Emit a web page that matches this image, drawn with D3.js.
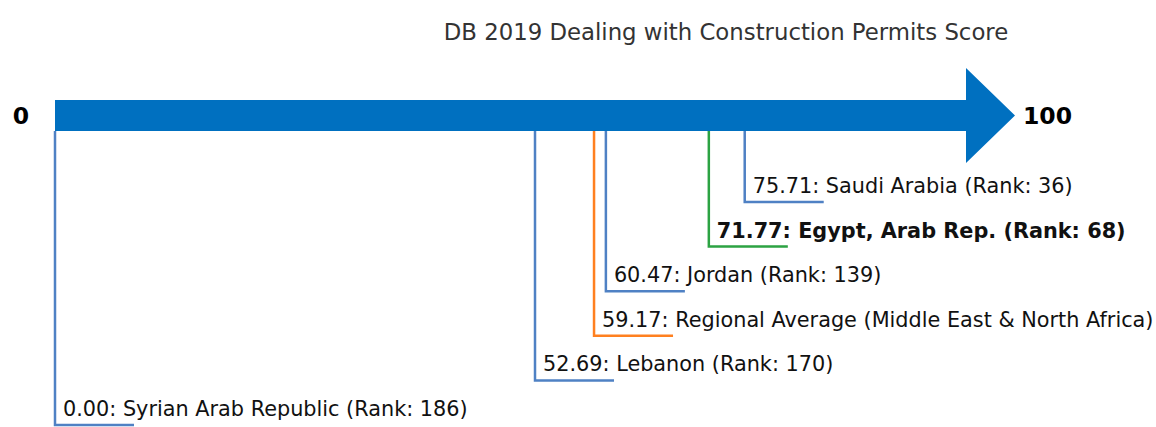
<!DOCTYPE html>
<html><head><meta charset="utf-8">
<script src="https://cdn.jsdelivr.net/npm/d3@7"></script>
<style>body{margin:0;background:#fff}svg{display:block}text{font-family:"DejaVu Sans",sans-serif}</style>
</head><body>
<svg id="c" width="1156" height="427"></svg>
<script>
const countries = ["Saudi Arabia (Rank: 36)", "Egypt, Arab Rep. (Rank: 68)", "Jordan (Rank: 139)", "Regional Average (Middle East & North Africa)", "Lebanon (Rank: 170)", "Syrian Arab Republic (Rank: 186)"];
const scores = [75.71, 71.77, 60.47, 59.17, 52.69, 0.00];
const colors = ["#4f81c4", "#2ca343", "#4f81c4", "#ff8020", "#4f81c4", "#4f81c4"];
const bold = [false, true, false, false, false, false];
const axisLabels = ["0", "100"];
const title = "DB 2019 Dealing with Construction Permits Score";

const svg = d3.select("#c");
const x = d3.scaleLinear().domain([0, 100]).range([55, 966]);
const y = d3.scaleLinear().domain([0, countries.length - 1]).range([202, 425]);
const barTop = 100, barBot = 131, barMid = 115.5;

svg.append("text").attr("x", 726).attr("y", 40).attr("text-anchor", "middle")
  .attr("font-size", 22.8).attr("fill", "#333").text(title);

// arrow
const x0 = x(0), x1 = x(100);
svg.append("path").attr("fill", "#0070c0")
  .attr("d", `M${x0},${barTop}L${x1},${barTop}L${x1},68L${x1+49},${barMid}L${x1},163L${x1},${barBot}L${x0},${barBot}Z`);

svg.append("text").attr("x", 21).attr("y", barMid).attr("dy", "0.35em").attr("text-anchor", "middle")
  .attr("font-size", 23.5).attr("font-weight", "bold").text(axisLabels[0]);
svg.append("text").attr("x", x1 + 57).attr("y", barMid).attr("dy", "0.35em")
  .attr("font-size", 23.5).attr("font-weight", "bold").text(axisLabels[1]);

const g = svg.selectAll("g.item").data(countries).join("g").attr("class", "item");
g.append("path").attr("fill", "none").attr("stroke-width", 2.5)
  .attr("stroke", (d, i) => colors[i])
  .attr("d", (d, i) => `M${x(scores[i])},${barBot}L${x(scores[i])},${y(i)}L${x(scores[i]) + 79},${y(i)}`);
g.append("text").attr("x", (d, i) => x(scores[i]) + 8).attr("y", (d, i) => y(i) - 9)
  .attr("font-size", 20.8).attr("fill", "#111")
  .attr("font-weight", (d, i) => bold[i] ? "bold" : "normal")
  .text((d, i) => scores[i].toFixed(2) + ": " + d);
</script>
</body></html>
